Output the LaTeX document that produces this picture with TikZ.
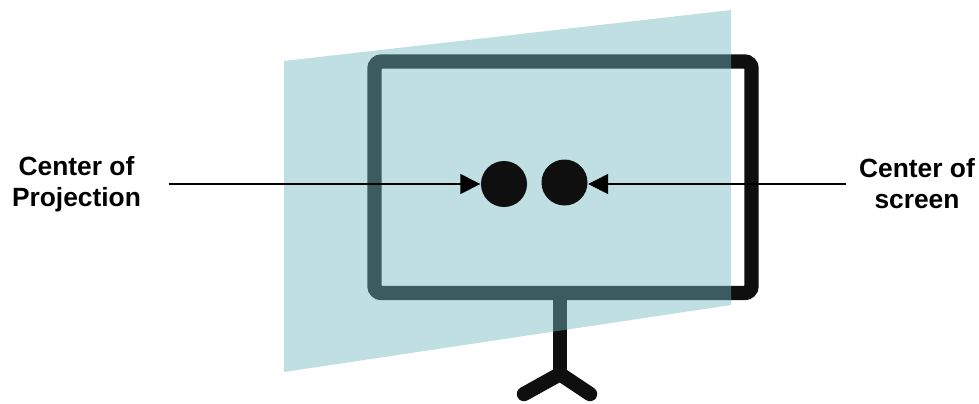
\documentclass[tikz,border=0pt]{standalone}
\usepackage{fontspec}
\setmainfont{Liberation Sans}
\usetikzlibrary{arrows.meta, positioning}
\definecolor{scrBlack}{HTML}{0F0F0F}
\definecolor{scrTeal}{RGB}{115,184,193}
\tikzset{
  frameline/.style = {scrBlack, line width=4.1pt},
  standline/.style = {scrBlack, line width=4.1pt, line cap=round, line join=round},
  planefill/.style = {scrTeal, opacity=0.45},
  dotnode/.style   = {circle, fill=scrBlack, inner sep=0pt, minimum size=0.46cm},
  lbl/.style       = {font=\bfseries\fontsize{7.5}{8.8}\selectfont, align=center, text=black},
  pointer/.style   = {-{Triangle[length=2mm, width=2mm]}, line width=0.4pt, black},
}
\begin{document}
\begin{tikzpicture}
  \useasboundingbox (0,0) rectangle (9.79,4.03);
  % screen on its stand
  \draw[frameline, rounded corners=0.07cm] (3.745,3.415) rectangle (7.515,1.10);
  \draw[standline] (5.60,1.03) -- (5.60,0.29);
  \draw[standline] (5.24,0.09) -- (5.60,0.29) -- (5.90,0.09);
  % tilted plane over the screen
  \fill[planefill] (2.84,3.42) -- (7.31,3.93) -- (7.31,0.98) -- (2.84,0.31) -- cycle;
  % the two centers
  \node[dotnode] (dotproj) at (5.04,2.19) {};
  \node[dotnode] (dotscreen) at (5.645,2.205) {};
  \node[lbl, inner xsep=0.27cm] (proj) at (0.765,2.19) {Center of\\Projection};
  \node[lbl, inner xsep=0.12cm] (screen) at (9.17,2.19) {Center of\\screen};
  \draw[pointer] (proj.east) -- (dotproj.west);
  \draw[pointer] (screen.west) -- (screen.west -| dotscreen.east);
\end{tikzpicture}
\end{document}
